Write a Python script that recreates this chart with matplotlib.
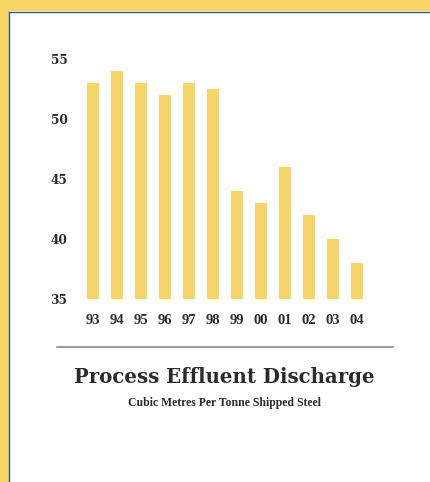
import matplotlib
matplotlib.use("Agg")
import matplotlib.pyplot as plt
from matplotlib.patches import Rectangle
from matplotlib.lines import Line2D

# discharge per year, cubic metres per tonne shipped
years = ["93", "94", "95", "96", "97", "98", "99", "00", "01", "02", "03", "04"]
discharge = [53, 54, 53, 52, 53, 52.5, 44, 43, 46, 42, 40, 38]
yticks = [35, 40, 45, 50, 55]

W, H = 431, 482
YELLOW = "#F6D566"
BLUE = "#2E5B85"
TEXT = "#2B2B2B"

fig = plt.figure(figsize=(W / 100, H / 100), dpi=100)
fig.patch.set_facecolor(YELLOW)


def fx(px):
    return px / W


def fy(py):
    # pixel rows counted from the top
    return 1 - py / H


# white card with a thin blue edge on top and left
fig.add_artist(Rectangle((fx(9), 0), 1, fy(11), transform=fig.transFigure,
                         facecolor="white", edgecolor="none", zorder=0))
fig.add_artist(Line2D([fx(9.5), 1], [fy(11.5), fy(11.5)], transform=fig.transFigure,
                      color=BLUE, lw=1.0))
fig.add_artist(Line2D([fx(9.5), fx(9.5)], [0, fy(11.5)], transform=fig.transFigure,
                      color=BLUE, lw=1.0))

ax = fig.add_axes([fx(68.8), fy(299), fx(312), 240 / H])
ax.set_facecolor("none")
x = list(range(len(years)))
ax.bar(x, discharge, width=0.5, color=YELLOW, edgecolor="none")
ax.set_xlim(-1, 12)
ax.set_ylim(35, 55)
ax.set_yticks(yticks)
ax.set_xticks(x)
ax.set_xticklabels(years)
for s in ax.spines.values():
    s.set_visible(False)
ax.tick_params(axis="both", length=0)
ax.tick_params(axis="y", pad=1)
ax.tick_params(axis="x", pad=11)
for lab in ax.get_yticklabels():
    lab.set_fontfamily("DejaVu Serif")
    lab.set_fontweight("bold")
    lab.set_fontsize(8.7)
    lab.set_color(TEXT)
for lab in ax.get_xticklabels():
    lab.set_fontfamily("Liberation Serif")
    lab.set_fontweight("bold")
    lab.set_fontsize(10.5)
    lab.set_color(TEXT)

# rule above the title
fig.add_artist(Line2D([fx(57), fx(393)], [fy(346.7), fy(346.7)], transform=fig.transFigure,
                      color="#8A8A8A", lw=1.2))

fig.text(fx(224), fy(377), "Process Effluent Discharge", ha="center", va="center",
         fontfamily="DejaVu Serif", fontweight="heavy", fontsize=14.2, color=TEXT)
fig.text(fx(225), fy(403), "Cubic Metres Per Tonne Shipped Steel", ha="center", va="center",
         fontfamily="Liberation Serif", fontweight="bold", fontsize=8.5, color=TEXT)

fig.savefig("out.png", dpi=100, facecolor=fig.get_facecolor())
